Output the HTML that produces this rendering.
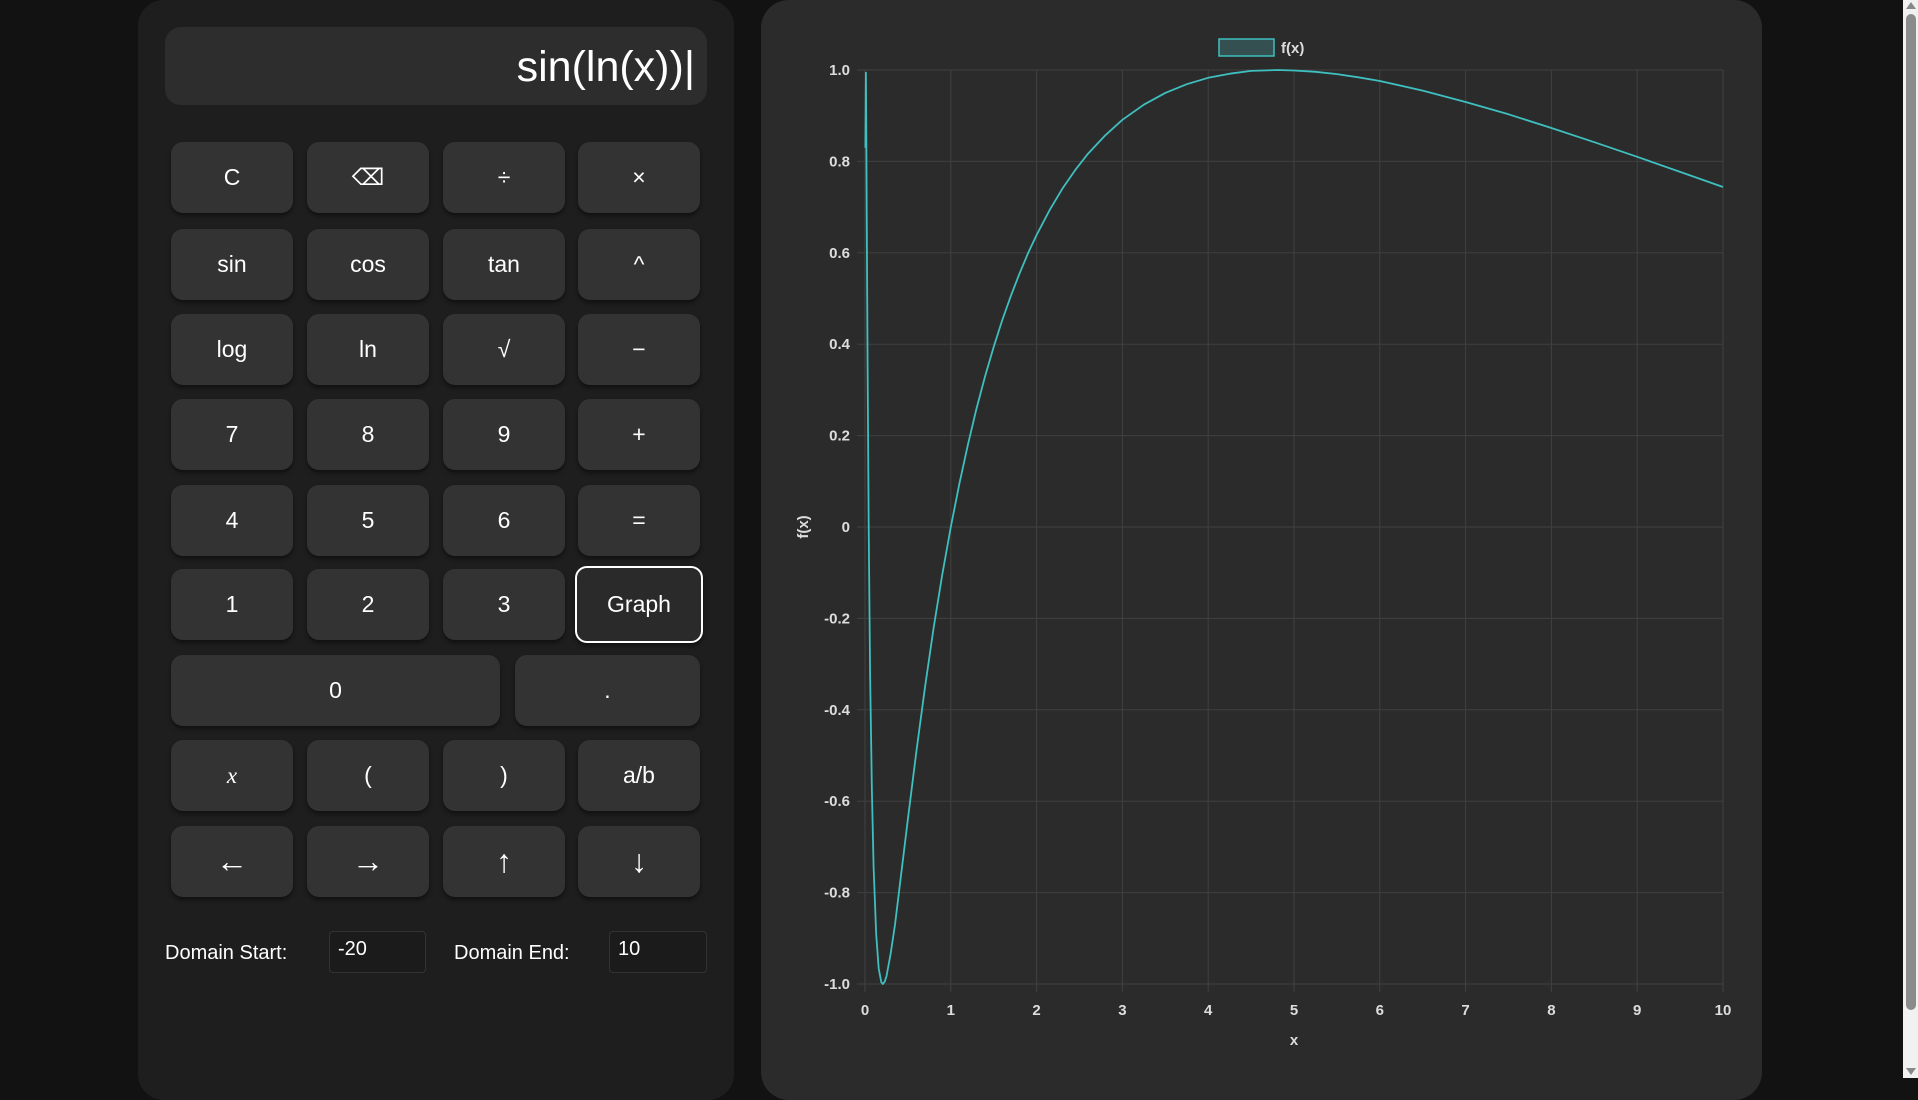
<!DOCTYPE html>
<html><head><meta charset="utf-8">
<style>
*{box-sizing:border-box;margin:0;padding:0}
body{width:1918px;height:1078px;background:#121212;font-family:"Liberation Sans",sans-serif;overflow:hidden;position:relative;color:#fff}
#calc{position:absolute;left:138px;top:0;width:596px;height:1100px;background:#1e1e1e;border-radius:26px}
#display{position:absolute;left:27px;top:27px;width:542px;height:78px;background:#2d2d2d;border-radius:16px;text-align:right;padding-right:12px;font-size:43px;line-height:80px;color:#fff}
.btn{position:absolute;width:122px;height:71px;background:#333;border-radius:12px;box-shadow:0 3px 4px rgba(0,0,0,.45);color:#fff;font-size:23px;display:flex;align-items:center;justify-content:center}
.lbl{position:absolute;font-size:20px;color:#fff}
.inp{position:absolute;height:42px;background:#1b1b1b;border:1px solid #333;border-radius:4px;color:#fff;font-size:20px;padding:6px 8px}
#chartp{position:absolute;left:761px;top:0;width:1001px;height:1100px;background:#2b2b2b;border-radius:28px}
#sb{position:absolute;left:1903px;top:0;width:15px;height:1078px;background:#f1f1f1}
#thumb{position:absolute;left:3px;top:14px;width:10px;height:996px;background:#8b8b8b;border-radius:5px}
</style></head><body>
<div id="calc">
<div id="display">sin(ln(x))|</div>
</div>
<div id="btns"></div>
<div class="lbl" style="left:165px;top:942px">Domain Start:</div>
<div class="inp" style="left:329px;top:931px;width:97px">-20</div>
<div class="lbl" style="left:454px;top:942px">Domain End:</div>
<div class="inp" style="left:609px;top:931px;width:98px">10</div>
<div id="chartp"></div>
<svg id="chart" width="1918" height="1078" style="position:absolute;left:0;top:0"></svg>
<div id="sb"><div id="thumb"></div>
<div style="position:absolute;left:3px;top:2px;width:0;height:0;border-left:5px solid transparent;border-right:5px solid transparent;border-bottom:7px solid #888"></div>
<div style="position:absolute;left:3px;top:1068px;width:0;height:0;border-left:5px solid transparent;border-right:5px solid transparent;border-top:7px solid #888"></div></div>
<script>
const xValues=[0.005,0.01,0.015,0.02,0.03,0.043,0.06,0.08,0.1,0.13,0.16,0.19,0.208,0.23,0.25,0.3,0.35,0.4,0.5,0.6,0.7,0.8,0.9,1,1.1,1.2,1.3,1.4,1.5,1.6,1.7,1.8,1.9,2,2.15,2.3,2.45,2.6,2.8,3,3.25,3.5,3.75,4,4.25,4.5,4.81,5,5.25,5.5,5.75,6,6.5,7,7.5,8,8.5,9,9.5,10];
const yValues=[0.83,0.994,0.865,0.697,0.355,0,-0.322,-0.578,-0.744,-0.892,-0.966,-0.996,-1,-0.995,-0.983,-0.933,-0.870,-0.793,-0.639,-0.489,-0.349,-0.221,-0.105,0,0.095,0.181,0.259,0.330,0.394,0.453,0.506,0.554,0.599,0.639,0.693,0.740,0.781,0.817,0.857,0.891,0.924,0.950,0.969,0.983,0.992,0.998,1,0.999,0.996,0.991,0.984,0.976,0.955,0.930,0.903,0.873,0.842,0.810,0.777,0.744];
const xTicks=[0,1,2,3,4,5,6,7,8,9,10];
const yTicks=[1.0,0.8,0.6,0.4,0.2,0,-0.2,-0.4,-0.6,-0.8,-1.0];
const yTickLabels=["1.0","0.8","0.6","0.4","0.2","0","-0.2","-0.4","-0.6","-0.8","-1.0"];
const btnLabels=[["C","⌫","÷","×"],["sin","cos","tan","^"],["log","ln","√","−"],["7","8","9","+"],["4","5","6","="],["1","2","3","Graph"],["0","."],["x","(",")","a/b"],["←","→","↑","↓"]];

const bc=document.getElementById('btns');
const colX=[171,307,443,578],rowY=[142,229,314,399,485,569,655,740,826];
btnLabels.forEach((row,r)=>{row.forEach((t,c)=>{
 const b=document.createElement('div');b.className='btn';b.textContent=t;
 
 
 let left=colX[c],w=122;
 if(r===6){if(c===0){left=171;w=329}else{left=515;w=185}}
 b.style.left=left+'px';b.style.top=rowY[r]+'px';b.style.width=w+'px';
 if(t==='Graph'){b.style.border='2px solid #fff';b.style.background='#2a2a2a';b.style.left=(left-3)+'px';b.style.top=(rowY[r]-3)+'px';b.style.width='128px';b.style.height='77px';}
 if(t==='x'&&r===7){b.style.fontFamily='"Liberation Serif",serif';b.style.fontStyle='italic';}
 if(r===8){b.style.fontSize='32px';}
 bc.appendChild(b);
})});

const svg=document.getElementById('chart');const NS='http://www.w3.org/2000/svg';
const X0=865,X1=1723,Y0=70,Y1=984;
const sx=v=>X0+(v-0)/(10-0)*(X1-X0);
const sy=v=>Y1-(v+1)/2*(Y1-Y0);
function el(tag,attrs,txt){const e=document.createElementNS(NS,tag);for(const k in attrs)e.setAttribute(k,attrs[k]);if(txt!==undefined)e.textContent=txt;svg.appendChild(e);return e;}
xTicks.forEach(v=>{
 const l=el('line',{x1:sx(v),x2:sx(v),y1:Y0,y2:Y1+8,stroke:'#404040','stroke-width':1});
 
 
 const t=el('text',{x:sx(v),y:Y1+31,fill:'#ddd','font-size':15,'font-weight':'bold','text-anchor':'middle','font-family':'Liberation Sans'},String(v));
 
 
});
yTicks.forEach((v,i)=>{
 const l=el('line',{x1:X0-8,x2:X1,y1:sy(v),y2:sy(v),stroke:'#404040','stroke-width':1});
 
 
 const t=el('text',{x:X0-15,y:sy(v)+5,fill:'#ddd','font-size':15,'font-weight':'bold','text-anchor':'end','font-family':'Liberation Sans'},yTickLabels[i]);
 
 
});
const pts=xValues.map((x,i)=>sx(x).toFixed(1)+','+sy(yValues[i]).toFixed(1)).join(' ');
const line=el('polyline',{points:pts,fill:'none',stroke:'#3fbfbf','stroke-width':1.8,'stroke-linejoin':'round'});


const lb=el('rect',{x:1219,y:39,width:55,height:17,fill:'#355050',stroke:'#3fbfbf','stroke-width':1.5});


const lt=el('text',{x:1281,y:53,fill:'#ddd','font-size':15,'font-weight':'bold','font-family':'Liberation Sans'},'f(x)');


const xt=el('text',{x:(X0+X1)/2,y:1045,fill:'#ddd','font-size':15,'font-weight':'bold','text-anchor':'middle','font-family':'Liberation Sans'},'x');


const yt=el('text',{x:0,y:0,fill:'#ddd','font-size':15,'font-weight':'bold','text-anchor':'middle','font-family':'Liberation Sans',transform:'translate(808,527) rotate(-90)'},'f(x)');


</script>
</body></html>
